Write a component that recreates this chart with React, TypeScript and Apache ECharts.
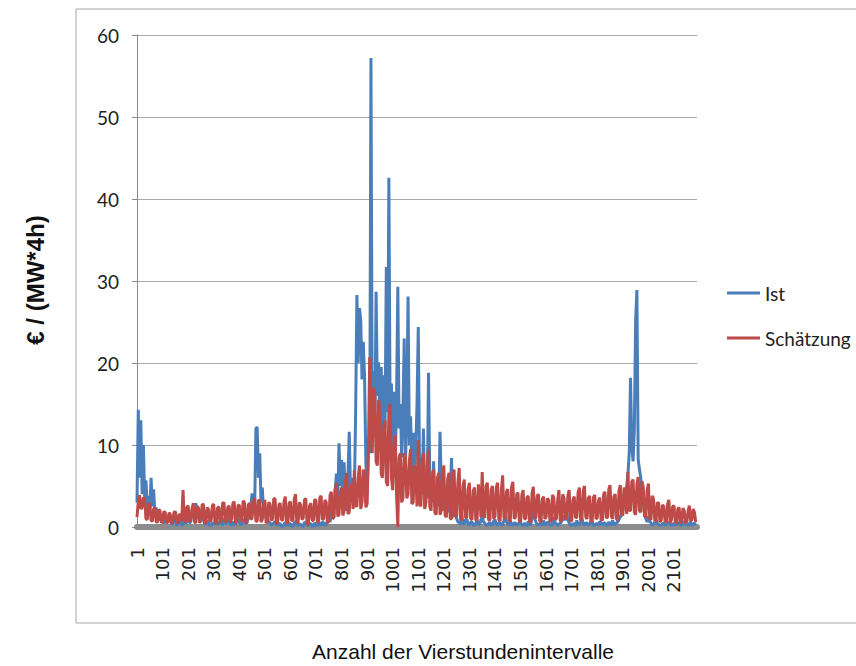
import React, { useEffect, useRef } from "react";
import * as echarts from "echarts";

// One sample every 5 four-hour intervals, starting at interval 1.
const STEP = 5;
const INTERVAL_COUNT = 2190;

const seriesNames = ["Ist", "Schätzung"];

const ist: number[] = [
  3.0, 14.3, 6.0, 13.0, 4.0, 10.0, 3.5, 5.7, 2.5, 3.8, 2.0, 6.0, 2.5, 4.6, 1.5, 2.4, 1.0, 1.8, 0.8, 1.4,
  1.0, 0.4, 1.3, 0.5, 0.6, 1.0, 1.0, 0.3, 0.4, 0.8, 0.8, 0.2, 0.3, 0.7, 0.7, 0.2, 0.4, 0.9, 0.4, 0.6,
  1.2, 0.5, 0.6, 1.8, 2.6, 2.0, 2.9, 2.2, 2.4, 1.9, 1.6, 0.9, 0.8, 0.4, 0.3, 0.7, 0.6, 0.2, 0.2, 0.5,
  0.5, 0.3, 0.9, 0.4, 0.3, 0.7, 0.6, 0.2, 1.1, 0.5, 0.4, 0.9, 0.7, 0.3, 0.2, 0.6, 0.5, 0.2, 1.3, 0.6,
  0.6, 0.3, 0.3, 0.8, 0.9, 0.4, 0.5, 1.1, 1.6, 2.4, 4.1, 1.8, 2.2, 12.0, 12.2, 6.0, 9.0, 3.0, 4.8, 1.8,
  2.3, 1.0, 1.2, 0.5, 0.6, 0.2, 0.3, 0.5, 0.7, 0.3, 0.2, 0.4, 0.4, 0.1, 0.1, 0.3, 0.6, 0.2, 0.2, 0.4,
  0.4, 0.1, 0.1, 0.5, 0.7, 0.2, 0.2, 0.4, 0.3, 0.1, 0.1, 0.6, 0.5, 0.2, 0.2, 0.4, 0.4, 0.1, 0.1, 0.5,
  0.3, 0.1, 0.7, 0.3, 0.2, 0.6, 0.5, 0.2, 0.3, 0.8, 1.0, 0.6, 2.0, 1.0, 1.2, 4.5, 6.5, 3.0, 10.2, 5.0,
  8.2, 3.0, 7.9, 2.5, 2.0, 6.0, 11.6, 4.0, 3.5, 6.0, 4.0, 14.0, 28.3, 20.0, 26.7, 25.2, 18.0, 22.6, 18.2, 8.0,
  4.0, 10.0, 9.0, 57.2, 12.0, 19.0, 11.0, 28.7, 16.0, 20.1, 12.0, 19.5, 10.0, 18.5, 12.0, 31.7, 14.0, 42.6, 13.0, 17.5,
  9.0, 16.5, 8.0, 15.5, 29.3, 12.0, 15.0, 8.5, 14.0, 23.0, 8.0, 13.5, 28.1, 10.0, 13.5, 6.0, 11.5, 5.5, 9.5, 14.9,
  24.4, 7.0, 8.5, 4.0, 12.0, 5.0, 6.5, 3.5, 18.8, 6.0, 5.5, 3.0, 8.0, 2.5, 3.5, 5.0, 2.5, 11.6, 5.0, 2.0,
  2.5, 4.5, 1.5, 3.0, 1.8, 4.0, 8.4, 2.0, 1.2, 3.2, 1.0, 0.6, 0.6, 0.3, 1.5, 0.4, 0.4, 0.9, 0.9, 0.3,
  0.3, 0.6, 0.6, 0.2, 0.2, 0.5, 0.8, 0.3, 0.3, 0.9, 1.4, 0.6, 0.5, 0.2, 0.2, 0.4, 0.6, 0.2, 0.3, 0.7,
  0.9, 0.3, 0.2, 0.5, 0.5, 0.2, 0.3, 0.8, 1.5, 0.6, 0.4, 0.2, 0.8, 0.3, 0.2, 0.5, 0.5, 0.2, 0.3, 0.6,
  0.6, 0.2, 0.2, 0.4, 0.4, 0.1, 0.7, 0.3, 0.3, 1.2, 3.0, 1.0, 0.6, 0.3, 0.2, 0.4, 0.4, 0.2, 0.8, 0.3,
  0.3, 0.6, 0.5, 0.2, 0.2, 0.4, 1.2, 0.5, 0.4, 0.2, 0.3, 0.5, 0.6, 1.0, 1.4, 0.8, 1.8, 0.9, 0.5, 0.2,
  0.2, 0.4, 0.4, 0.1, 0.8, 0.3, 0.3, 0.6, 1.0, 0.4, 0.2, 0.5, 0.5, 0.2, 0.3, 0.7, 0.6, 0.2, 0.2, 0.4,
  0.4, 0.2, 0.7, 0.3, 0.3, 0.5, 0.5, 0.2, 0.2, 0.6, 0.4, 0.2, 0.8, 0.3, 0.3, 0.5, 0.6, 0.9, 1.2, 1.6,
  2.0, 3.0, 4.0, 5.0, 6.5, 9.0, 18.2, 10.0, 8.0, 12.0, 25.2, 28.9, 8.2, 7.0, 6.0, 3.0, 3.0, 1.5, 1.0, 0.6,
  1.3, 0.7, 0.5, 0.2, 0.3, 0.6, 0.9, 0.4, 0.3, 0.2, 0.2, 0.4, 0.5, 0.2, 0.3, 0.5, 0.6, 0.3, 0.2, 0.4,
  0.4, 0.2, 0.3, 0.5, 0.5, 0.2, 0.2, 0.6, 0.6, 0.3, 0.3, 0.2, 0.4, 0.6, 0.2, 0.3, 0.5, 0.2,
];

const schaetzung: number[] = [
  1.2, 3.1, 3.9, 2.2, 2.4, 3.6, 3.4, 1.0, 0.9, 2.7, 2.9, 0.8, 0.7, 2.2, 2.4, 0.6, 0.6, 2.1, 2.0, 0.5,
  0.7, 1.9, 1.8, 0.6, 0.5, 1.7, 1.6, 0.4, 0.8, 1.8, 1.9, 0.6, 0.5, 1.6, 1.4, 0.7, 4.5, 0.8, 0.6, 2.4,
  2.6, 0.7, 0.8, 2.2, 2.9, 0.6, 0.5, 2.5, 2.3, 0.5, 0.9, 2.8, 2.7, 0.4, 0.6, 2.4, 2.1, 0.7, 0.8, 2.6,
  2.8, 0.6, 0.4, 2.3, 2.5, 0.5, 0.9, 2.9, 3.0, 0.7, 0.6, 2.4, 2.6, 0.5, 1.0, 2.9, 3.1, 0.6, 0.5, 2.6,
  2.7, 0.8, 0.8, 3.2, 3.0, 0.5, 0.6, 2.7, 2.9, 0.9, 1.1, 3.0, 3.6, 0.7, 0.7, 3.3, 3.2, 0.6, 0.9, 2.8,
  3.3, 0.5, 0.6, 3.0, 2.8, 0.8, 1.0, 3.5, 3.4, 0.4, 0.5, 2.7, 2.9, 0.9, 0.8, 3.1, 3.7, 0.6, 0.4, 2.9,
  3.1, 0.7, 0.9, 3.4, 4.0, 0.5, 0.6, 3.0, 2.7, 0.9, 1.1, 3.3, 3.5, 0.4, 0.3, 2.6, 2.9, 0.8, 0.8, 3.4,
  3.2, 0.6, 0.6, 3.6, 3.8, 0.9, 1.0, 3.3, 3.0, 0.5, 0.7, 3.9, 4.3, 1.0, 1.2, 4.6, 5.4, 1.3, 1.5, 4.2,
  4.8, 1.4, 2.0, 5.6, 6.6, 1.6, 1.8, 4.9, 5.2, 2.2, 6.9, 2.6, 2.5, 6.0, 7.5, 2.2, 3.0, 7.0, 6.2, 2.4,
  2.8, 9.5, 20.7, 12.0, 9.0, 17.0, 16.5, 8.0, 7.5, 15.5, 14.0, 6.5, 6.0, 12.0, 13.0, 5.5, 5.0, 14.0, 15.0, 6.0,
  4.5, 10.0, 11.2, 4.0, 0.0, 8.5, 9.0, 3.0, 3.5, 9.0, 8.5, 3.5, 4.0, 8.0, 9.5, 2.8, 3.0, 7.5, 7.0, 2.5,
  10.6, 3.0, 2.5, 8.0, 9.0, 2.2, 3.0, 7.5, 9.4, 2.5, 2.0, 6.5, 7.0, 1.8, 1.5, 6.0, 6.6, 1.5, 2.0, 6.2,
  7.5, 1.4, 1.2, 5.8, 6.6, 1.0, 1.0, 6.0, 7.0, 1.3, 1.5, 5.5, 7.2, 1.0, 0.8, 5.0, 5.8, 1.1, 1.2, 4.6,
  5.4, 1.0, 0.9, 4.4, 4.8, 0.8, 0.9, 5.2, 4.2, 1.2, 6.7, 1.5, 1.1, 5.0, 5.4, 0.9, 0.8, 4.6, 5.0, 1.0,
  1.3, 4.8, 5.4, 0.9, 0.7, 4.5, 6.3, 1.2, 1.0, 4.3, 4.6, 0.7, 0.8, 4.9, 5.5, 1.0, 1.2, 4.0, 4.2, 0.8,
  0.6, 3.9, 4.5, 1.0, 1.0, 3.6, 3.8, 0.6, 0.7, 4.1, 4.9, 1.1, 1.1, 3.8, 4.0, 0.7, 0.6, 3.4, 3.7, 1.0,
  1.2, 3.5, 3.3, 0.6, 0.8, 3.9, 3.6, 0.9, 1.0, 3.2, 4.5, 0.8, 0.7, 4.0, 3.5, 1.0, 1.1, 3.8, 4.5, 0.7,
  0.8, 3.3, 3.7, 1.1, 1.2, 4.2, 4.8, 0.8, 0.9, 4.4, 5.0, 1.2, 1.0, 3.5, 3.8, 0.7, 0.6, 3.6, 3.9, 1.0,
  1.1, 3.2, 3.6, 0.9, 0.8, 4.0, 4.3, 1.1, 1.2, 4.6, 5.1, 1.3, 1.0, 3.7, 4.0, 1.0, 0.8, 4.4, 5.1, 1.5,
  1.4, 4.8, 4.2, 1.6, 6.7, 2.0, 2.0, 5.5, 5.8, 1.8, 1.5, 5.2, 6.1, 2.0, 1.8, 5.6, 4.8, 1.3, 1.2, 4.4,
  5.3, 1.0, 0.9, 3.8, 3.4, 0.8, 0.7, 3.0, 2.9, 0.6, 0.8, 2.7, 2.5, 0.7, 0.6, 2.8, 3.3, 0.5, 0.9, 2.5,
  2.6, 0.6, 0.5, 2.2, 2.4, 0.4, 0.8, 2.3, 2.0, 0.5, 0.6, 1.9, 2.6, 0.7, 0.9, 2.2, 1.8, 0.6,
];

const yTicks = { min: 0, max: 60, interval: 10 };
const xTickInterval = 100;

const COLORS = ["#4a7ebb", "#be4b48"];

const toPairs = (values: number[]) => values.map((v, k) => [k * STEP, v]);

export default function App() {
  const ref = useRef<HTMLDivElement>(null);

  useEffect(() => {
    if (!ref.current) return;
    const chart = echarts.init(ref.current, undefined, { renderer: "svg" });
    chart.setOption({
      animation: false,
      backgroundColor: "#ffffff",
      color: COLORS,
      grid: { left: 137, right: 159, top: 35, bottom: 139, containLabel: false },
      legend: {
        orient: "vertical",
        left: 727,
        top: 283,
        padding: 0,
        icon: "rect",
        itemWidth: 33,
        itemHeight: 3,
        itemGap: 25,
        data: seriesNames,
        textStyle: {
          fontFamily: "Lato",
          fontSize: 19,
          lineHeight: 20,
          color: "#222",
        },
      },
      xAxis: {
        type: "value",
        min: 0,
        max: INTERVAL_COUNT,
        interval: xTickInterval,
        offset: 4,
        splitLine: { show: false },
        axisTick: { show: false },
        axisLine: { show: true, lineStyle: { color: "#8c8c8c", width: 6 } },
        axisLabel: {
          rotate: 90,
          margin: 16,
          showMaxLabel: false,
          fontFamily: "DejaVu Sans",
          fontSize: 18,
          color: "#222",
          formatter: (v: number) => String(v + 1),
        },
      },
      yAxis: {
        type: "value",
        min: yTicks.min,
        max: yTicks.max,
        interval: yTicks.interval,
        axisLine: { show: true, lineStyle: { color: "#8a8a8a", width: 1 } },
        axisTick: { show: true, length: 5, lineStyle: { color: "#8a8a8a" } },
        splitLine: { show: true, lineStyle: { color: "#a8a8a8", width: 1 } },
        axisLabel: {
          margin: 18,
          fontFamily: "Lato",
          fontSize: 19,
          color: "#222",
        },
      },
      series: [
        {
          name: seriesNames[0],
          type: "line",
          data: toPairs(ist),
          showSymbol: false,
          lineStyle: { width: 3, color: COLORS[0] },
          z: 2,
        },
        {
          name: seriesNames[1],
          type: "line",
          data: toPairs(schaetzung),
          showSymbol: false,
          lineStyle: { width: 3, color: COLORS[1] },
          z: 3,
        },
      ],
      graphic: [
        {
          type: "rect",
          shape: { x: 76, y: 9, width: 800, height: 614 },
          style: { fill: "none", stroke: "#a6a6a6", lineWidth: 1 },
          silent: true,
          z: -1,
        },
        {
          type: "text",
          x: 35,
          y: 280,
          rotation: Math.PI / 2,
          style: {
            text: "€ / (MW*4h)",
            align: "center",
            verticalAlign: "middle",
            font: "bold 24px 'Liberation Sans', Arial, sans-serif",
            fill: "#111",
          },
        },
        {
          type: "text",
          x: 463,
          y: 651,
          style: {
            text: "Anzahl der Vierstundenintervalle",
            align: "center",
            verticalAlign: "middle",
            font: "21px 'Liberation Sans', Arial, sans-serif",
            fill: "#111",
          },
        },
      ],
    });
    return () => chart.dispose();
  }, []);

  return (
    <div
      ref={ref}
      style={{ position: "fixed", left: 0, top: 0, width: 856, height: 666 }}
    />
  );
}
